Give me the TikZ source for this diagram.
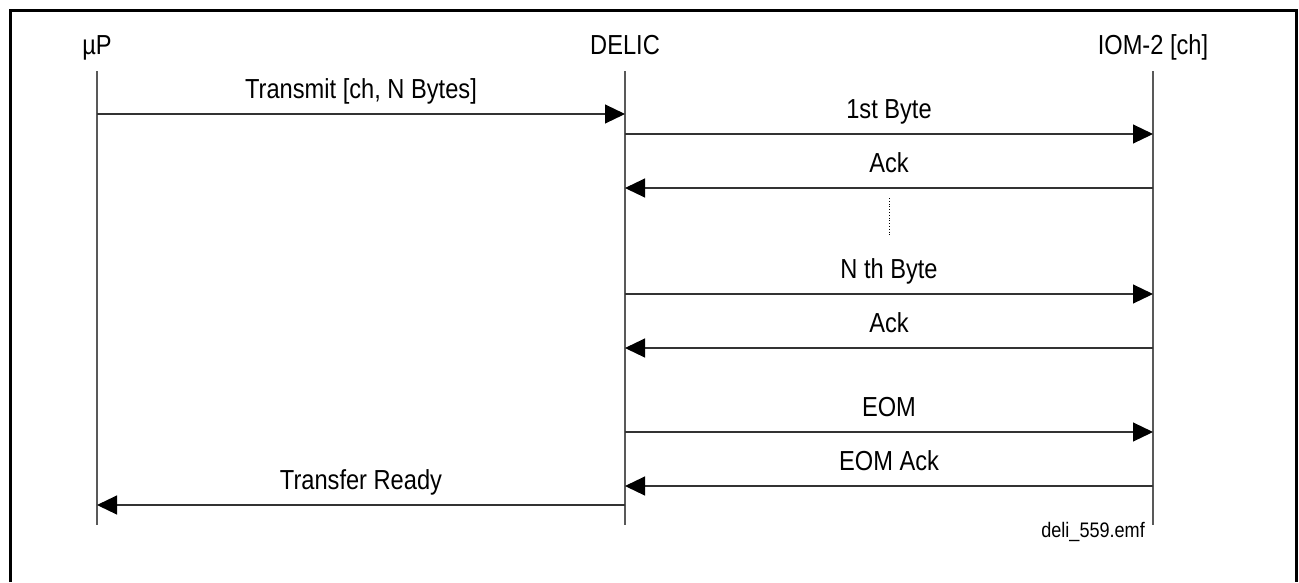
\documentclass[tikz,border=0pt]{standalone}
\usepackage{fontspec}
\setmainfont{Liberation Sans}[FakeStretch=0.86]
\usetikzlibrary{arrows.meta}
\begin{document}
\begin{tikzpicture}[x=1pt,y=-1pt,
  head/.style={font=\fontsize{27.5}{30}\selectfont, anchor=base, inner sep=0pt},
  lifeline/.style={draw=black!65, line width=1.1pt},
  msg/.style={draw=black!80, line width=1.1pt, -{Triangle[length=20pt,width=19pt,black]}},
  lbl/.style={font=\fontsize{27.5}{30}\selectfont, anchor=base, inner sep=0pt, yshift=16pt}]
\useasboundingbox (0,0) rectangle (1299,582);
\draw[line width=3pt] (10.5,582) -- (10.5,10.5) -- (1296.5,10.5) -- (1296.5,582);
% headers
\node[head] (up) at (97,54) {µP};
\node[head] (delic) at (625,54) {DELIC};
\node[head] (iom) at (1153,54) {IOM-2 [ch]};
% lifelines
\coordinate (upT) at (97,71);   \coordinate (upB) at (97,525);
\coordinate (deT) at (625,71);  \coordinate (deB) at (625,525);
\coordinate (ioT) at (1153,71); \coordinate (ioB) at (1153,525);
\draw[lifeline] (upT) -- (upB);
\draw[lifeline] (deT) -- (deB);
\draw[lifeline] (ioT) -- (ioB);
% message endpoints
\foreach \n/\y in {1/114,2/134,3/188,4/294,5/348,6/432,7/486,8/505}{
  \coordinate (u\n) at (97,\y);
  \coordinate (d\n) at (625,\y);
  \coordinate (i\n) at (1153,\y);
}
\draw[msg] (u1) -- node[lbl]{Transmit [ch, N Bytes]} (d1);
\draw[msg] (d2) -- node[lbl]{1st Byte} (i2);
\draw[msg] (i3) -- node[lbl]{Ack} (d3);
\coordinate (dotT) at (889,198); \coordinate (dotB) at (889,237);
\draw[dotted, line width=0.8pt] (dotT) -- (dotB);
\draw[msg] (d4) -- node[lbl]{N th Byte} (i4);
\draw[msg] (i5) -- node[lbl]{Ack} (d5);
\draw[msg] (d6) -- node[lbl]{EOM} (i6);
\draw[msg] (i7) -- node[lbl]{EOM Ack} (d7);
\draw[msg] (d8) -- node[lbl]{Transfer Ready} (u8);
\node[font=\fontsize{21}{24}\selectfont, anchor=base east, inner sep=0pt] (fname) at (1145,537) {deli\_559.emf};
\end{tikzpicture}
\end{document}
